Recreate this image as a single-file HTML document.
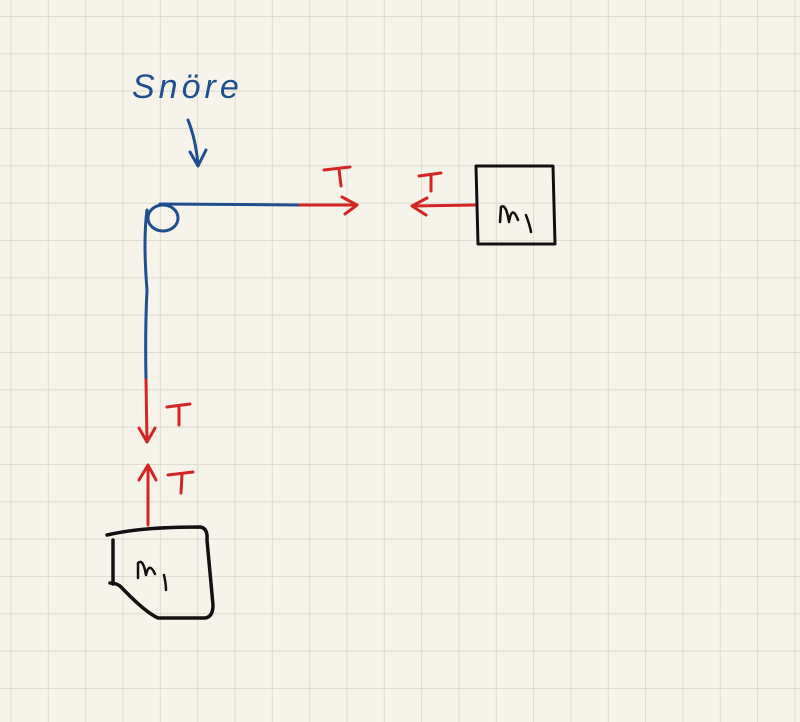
<!DOCTYPE html>
<html><head><style>
html,body{margin:0;padding:0;background:#f6f4ea;}
svg{display:block}
</style></head><body>
<svg width="800" height="722" viewBox="0 0 800 722" xmlns="http://www.w3.org/2000/svg">
<defs>
<pattern id="g" x="10.5" y="16" width="37.33" height="37.33" patternUnits="userSpaceOnUse">
<path d="M0 0V37.33M0 0H37.33" stroke="#dddbce" stroke-width="2" fill="none"/>
</pattern>
</defs>
<rect width="800" height="722" fill="#f6f4ea"/>
<rect width="800" height="722" fill="url(#g)"/>
<g fill="none" stroke-linecap="round" stroke-linejoin="round" stroke-width="3">
<text x="132" y="98" font-family="Liberation Sans, sans-serif" font-size="34" fill="#1f4f8f" font-style="italic" letter-spacing="4">Snöre</text>
<path d="M188 120 Q196 140 198 165 M190 152 L198 166 L206 150" stroke="#1f4f8f"/>
<ellipse cx="163" cy="218" rx="15" ry="13" stroke="#1f4f8f"/>
<path d="M160 204 L300 205" stroke="#1f4f8f"/>
<path d="M147 210 Q143 240 147 290 Q145 330 146 380" stroke="#1f4f8f"/>
<path d="M300 205 L356 205 M342 197 L357 205 L345 214" stroke="#d42424"/>
<path d="M324 170 L350 167 M339 169 L341 186" stroke="#d42424"/>
<path d="M475 205 L413 206 M427 198 L412 206 L426 215" stroke="#d42424"/>
<path d="M419 176 L441 173 M431 175 L431 191" stroke="#d42424"/>
<path d="M146 380 L147 440 M139 428 L147 442 L155 428" stroke="#d42424"/>
<path d="M167 407 L190 404 M179 406 L179 425" stroke="#d42424"/>
<path d="M148 525 L148 465 M139 480 L148 465 L156 480" stroke="#d42424"/>
<path d="M168 475 L193 472 M182 474 L181 493" stroke="#d42424"/>
<path d="M476 166 L553 166 L555 244 L478 244 Z" stroke="#111"/>
<path d="M500 222 L501 207 Q506 203 509 222 Q512 204 518 220 M526 215 Q530 226 531 232" stroke="#111" stroke-width="2.5"/>
<path d="M107 535 Q140 527 200 527 Q208 528 207 540 L213 605 Q213 617 205 618 L158 618 Q145 612 122 588 Q118 583 110 583 M113 540 L113 584" stroke="#111" stroke-width="3.5"/>
<path d="M138 578 L138 563 Q143 558 146 575 Q149 561 155 574 M164 575 Q166 584 166 590" stroke="#111" stroke-width="2.5"/>
</g>
</svg>
</body></html>
